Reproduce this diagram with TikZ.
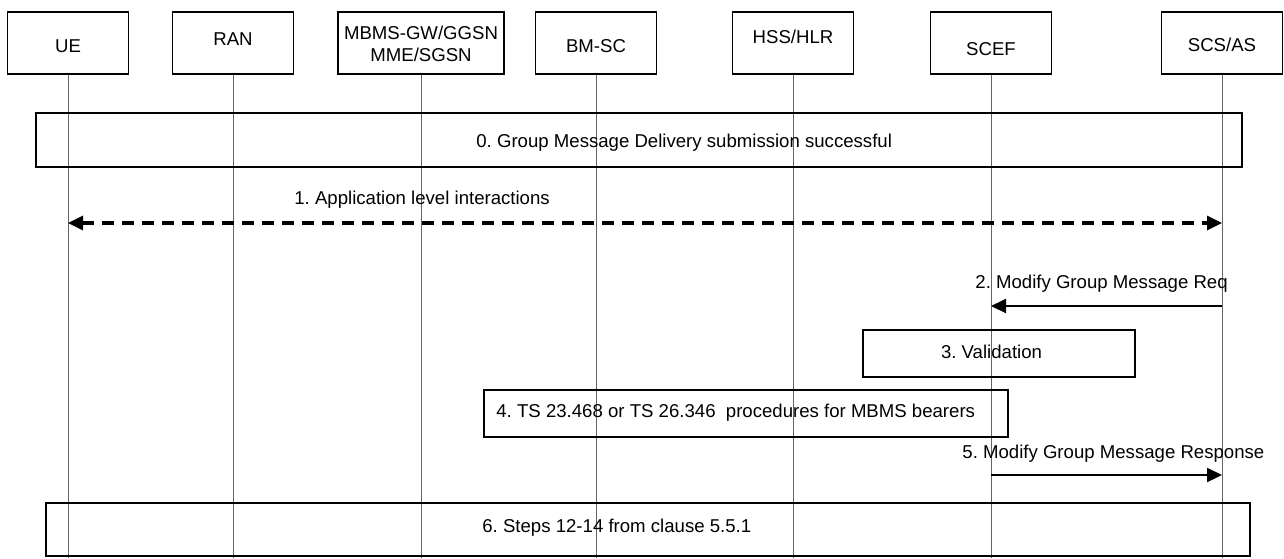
\documentclass[tikz,border=0pt]{standalone}
\usepackage{fontspec}
\setmainfont{Liberation Sans}
\usetikzlibrary{arrows.meta}
\frenchspacing
\definecolor{lifegray}{RGB}{100,100,100}
\tikzset{
  hdr/.style={draw,line width=0.6pt,minimum height=31pt,inner sep=0pt},
  hdrtxt/.style={inner sep=0pt,align=center,font=\fontsize{9.3}{11}\selectfont},
  life/.style={draw=lifegray,line width=0.5pt},
  stepbox/.style={draw,line width=0.75pt,inner sep=0pt},
  txt/.style={inner sep=0pt,anchor=west,font=\fontsize{9.3}{11}\selectfont},
  msg/.style={line width=1.1pt,-{Triangle[length=7.5pt,width=7pt]}},
  dmsg/.style={line width=1.6pt,dash pattern=on 6pt off 4pt,{Triangle[length=7.5pt,width=7pt]}-{Triangle[length=7.5pt,width=7pt]}},
}
\begin{document}
\begin{tikzpicture}[x=0.5pt,y=-0.5pt]
\useasboundingbox (0,0) rectangle (1284,558);
% entities: name/x/width/text shift/text
\foreach \n/\x/\w/\dy/\t in {ue/68/60.5/3/UE, ran/233/60.5/-4/RAN,
  mbms/421/83/1/{MBMS-GW/GGSN\\MME/SGSN}, bmsc/596/60.5/3/BM-SC,
  hss/793/60.5/-6/{HSS/HLR}, scef/991/60.5/6/SCEF, scs/1222/60.5/2/{SCS/AS}}{
  \node[hdr,minimum width=\w pt] (\n) at (\x,43) {};
  \node[hdrtxt] (\n-lbl) at (\x,{43+\dy}) {\t};
  \coordinate (\n-end) at (\x,558);
  \draw[life] (\n) -- (\n-end); % lifeline
}
% rows of the messages
\coordinate (r1) at (0,223);
\coordinate (r2) at (0,306);
\coordinate (r5) at (0,475);
% 0
\node[stepbox,minimum width=603pt,minimum height=27pt] (s0) at (639,140) {};
\node[txt] (s0-lbl) at (476,143) {0. Group Message Delivery submission successful};
% 1
\node[txt] (m1-lbl) at (294,200) {1. Application level interactions};
\draw[dmsg] (ue |- r1) -- (scs |- r1);
% 2
\node[txt] (m2-lbl) at (975,284) {2. Modify Group Message Req};
\draw[msg] (scs |- r2) -- (scef |- r2);
% 3
\node[stepbox,minimum width=136pt,minimum height=23.5pt] (s3) at (999,353.5) {};
\node[txt,anchor=center] (s3-lbl) at (991.5,352) {3. Validation};
% 4
\node[stepbox,minimum width=262pt,minimum height=23.5pt] (s4) at (746,413.5) {};
\node[txt] (s4-lbl) at (496,413) {4. TS 23.468 or TS 26.346\ \ procedures for MBMS bearers};
% 5
\node[txt] (m5-lbl) at (962,454) {5. Modify Group Message Response};
\draw[msg] (scef |- r5) -- (scs |- r5);
% 6
\node[stepbox,minimum width=602pt,minimum height=26.5pt] (s6) at (648,529.5) {};
\node[txt] (s6-lbl) at (482,528) {6. Steps 12-14 from clause 5.5.1};
\end{tikzpicture}
\end{document}
